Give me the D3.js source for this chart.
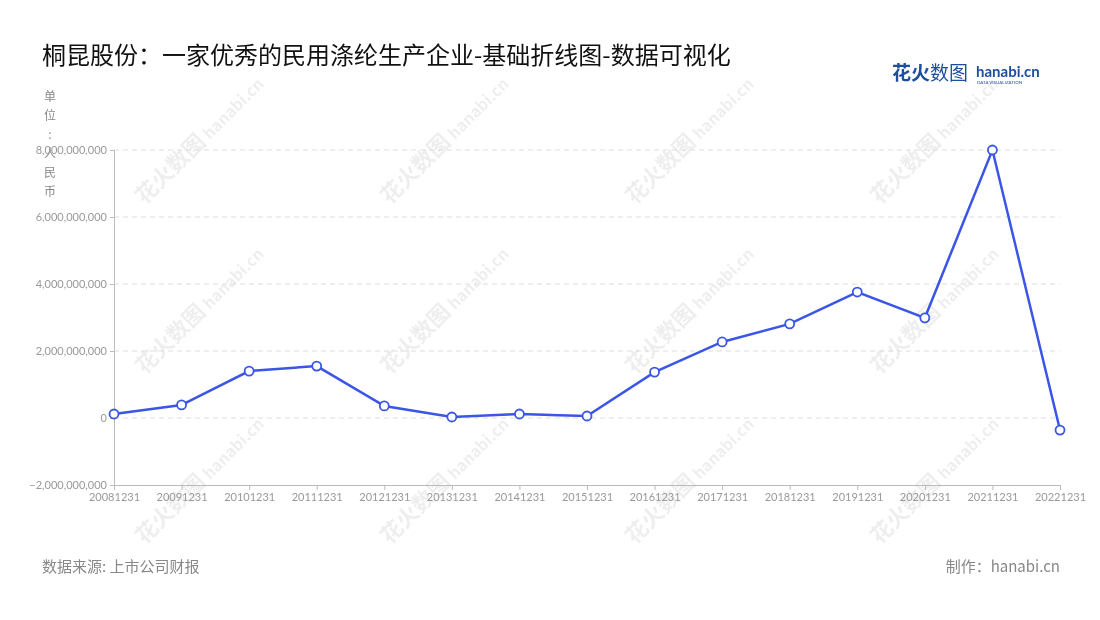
<!DOCTYPE html>
<html><head><meta charset="utf-8">
<script src="https://cdn.jsdelivr.net/npm/d3@7"></script>
<style>body{margin:0;background:#fff;font-family:"Noto Sans CJK SC","Noto Sans",sans-serif;}</style>
</head><body><svg id="c" width="1100" height="620"></svg>
<script>
var years = ["20081231","20091231","20101231","20111231","20121231","20131231","20141231","20151231","20161231","20171231","20181231","20191231","20201231","20211231","20221231"];
var values = [0.12e9,0.39e9,1.40e9,1.55e9,0.36e9,0.03e9,0.12e9,0.06e9,1.37e9,2.27e9,2.81e9,3.76e9,2.99e9,8.0e9,-0.36e9];
var yTicks = [-2e9,0,2e9,4e9,6e9,8e9];

var svg = d3.select("#c");
var font = '"Noto Sans CJK SC","Noto Sans",sans-serif';

// watermarks
var wm = svg.append("g").attr("opacity",0.07);
[130,375,620,865].forEach(function(x){
  [150,320,490].forEach(function(y){
    var g = wm.append("g").attr("transform","translate("+(x+50)+","+(y+20)+") rotate(-45)");
    g.append("text").attr("x",-50).attr("y",0).attr("font-size",22).attr("font-weight","bold").attr("fill","#000").text("花火数图");
    g.append("text").attr("x",42).attr("y",0).attr("font-size",16).attr("font-weight","bold").attr("fill","#000").text("hanabi.cn");
  });
});

var x = d3.scalePoint().domain(years).range([114,1060]);
var y = d3.scaleLinear().domain([-2e9,8e9]).range([485,150]);

svg.append("text").attr("x",42).attr("y",64).attr("font-size",24).attr("fill","#111").attr("font-family",font)
  .text("桐昆股份：一家优秀的民用涤纶生产企业-基础折线图-数据可视化");

// logo
svg.append("text").attr("x",892).attr("y",80).attr("font-size",19).attr("font-weight","bold").attr("fill","#1f4e9c").attr("font-family",font).text("花火");
svg.append("text").attr("x",930).attr("y",80).attr("font-size",19).attr("fill","#1f4e9c").attr("font-family",font).text("数图");
svg.append("text").attr("x",976).attr("y",77).attr("font-size",15).attr("font-weight","bold").attr("fill","#1f4e9c").attr("font-family","Lato,sans-serif").text("hanabi.cn");
svg.append("text").attr("x",977).attr("y",84).attr("font-size",4.5).attr("fill","#1f4e9c").attr("font-family","Lato,sans-serif").text("DATA VISUALIZATION");

// unit label vertical
var unit = "单位：人民币".split("");
unit.forEach(function(ch,i){
  svg.append("text").attr("x",50).attr("y",101+i*19).attr("text-anchor","middle").attr("font-size",12).attr("fill","#888").attr("font-family",font).text(ch==="："?":":ch);
});

// grid
svg.append("g").selectAll("line").data(yTicks.filter(function(d){return d>-2e9;})).enter().append("line")
  .attr("x1",114).attr("x2",1060).attr("y1",function(d){return y(d);}).attr("y2",function(d){return y(d);})
  .attr("stroke","#ddd").attr("stroke-dasharray","5,4");

var ya = svg.append("g").attr("transform","translate(114,0)")
  .call(d3.axisLeft(y).tickValues(yTicks).tickFormat(d3.format(",")).tickSize(4));
ya.select(".domain").attr("stroke","#bbb");
ya.selectAll("line").attr("stroke","#bbb");
ya.selectAll("text").attr("fill","#999").attr("font-size",11).attr("font-family","Lato,sans-serif");

var xa = svg.append("g").attr("transform","translate(0,485)")
  .call(d3.axisBottom(x).tickSize(5));
xa.select(".domain").attr("stroke","#bbb");
xa.selectAll("line").attr("stroke","#bbb");
xa.selectAll("text").attr("fill","#999").attr("font-size",11).attr("font-family","Lato,sans-serif");

var line = d3.line().x(function(d,i){return x(years[i]);}).y(function(d){return y(d);});
svg.append("path").datum(values).attr("d",line).attr("fill","none").attr("stroke","#3b55e6").attr("stroke-width",2.5);
svg.append("g").selectAll("circle").data(values).enter().append("circle")
  .attr("cx",function(d,i){return x(years[i]);}).attr("cy",function(d){return y(d);}).attr("r",4.5)
  .attr("fill","#fff").attr("stroke","#3b55e6").attr("stroke-width",1.8);

svg.append("text").attr("x",42).attr("y",572).attr("font-size",15).attr("fill","#888").attr("font-family",font).text("数据来源: 上市公司财报");
svg.append("text").attr("x",1060).attr("y",572).attr("text-anchor","end").attr("font-size",15).attr("fill","#888").attr("font-family",font).text("制作：hanabi.cn");
</script></body></html>
